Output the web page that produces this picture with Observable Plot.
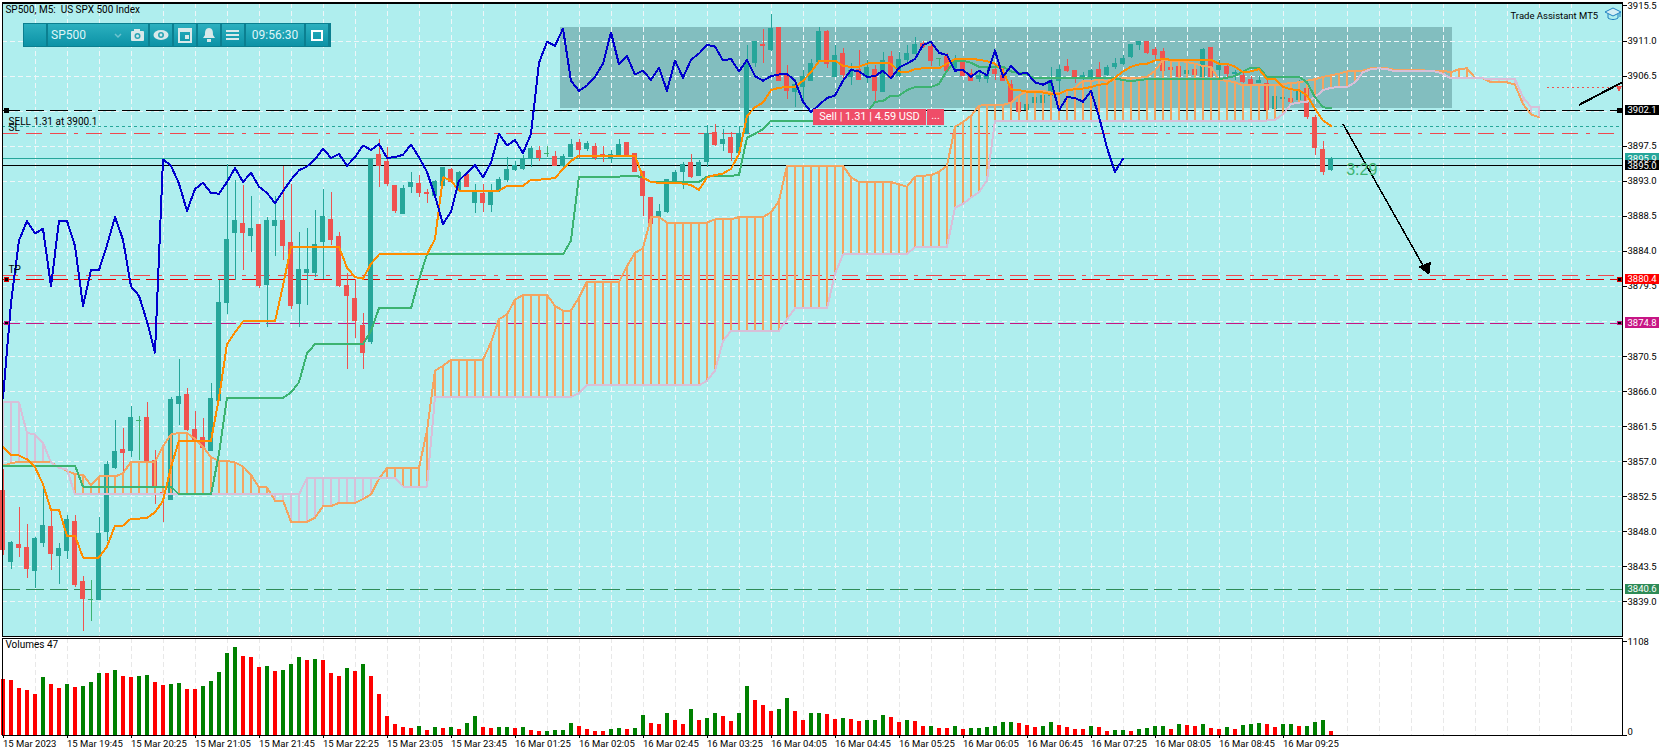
<!DOCTYPE html>
<html><head><meta charset="utf-8">
<script src="https://cdn.jsdelivr.net/npm/d3@7"></script>
<script src="https://cdn.jsdelivr.net/npm/@observablehq/plot@0.6"></script>
<style>
html,body{margin:0;padding:0;background:#fff;overflow:hidden}
#wrap{position:relative;width:1670px;height:756px;font-family:Roboto,sans-serif}
#wrap>div,#wrap>svg{position:absolute}
.tb{left:23px;top:23px;width:308px;height:24px;background:#0b7f90;}
.c{position:absolute;top:1px;height:22px;background:linear-gradient(#2cb0bf,#0c92a6);color:#dff6f8;font-size:12px;line-height:22px;box-sizing:border-box;text-align:center}
.c svg{position:absolute;left:0;top:0}
.sell{left:813px;top:109px;height:16px;width:113px;background:#EF4D68;color:#fff;font-size:11px;line-height:16px;text-align:center;white-space:pre}
.more{left:927px;top:109px;height:16px;width:17px;background:#EF4D68;color:#fff;font-size:11px;line-height:14px;text-align:center}
</style></head><body><div id="wrap"></div>
<script>
const open=[3853.3,3844.1,3846.3,3845.9,3843.0,3846.6,3848.6,3844.9,3845.5,3849.3,
3841.6,3839.2,3839.2,3848.0,3856.2,3858.5,3858.4,3862.2,3862.6,3857.1,
3853.0,3852.1,3864.4,3865.5,3861.1,3860.1,3858.4,3864.8,3877.4,3886.3,
3887.5,3886.0,3887.4,3879.7,3887.3,3887.9,3885.1,3877.3,3881.2,3881.2,
3885.2,3888.0,3885.9,3879.6,3877.9,3874.4,3872.4,3896.4,3895.5,3892.4,
3888.8,3892.2,3892.6,3891.5,3891.1,3892.4,3894.5,3891.8,3893.8,3890.2,
3891.4,3890.0,3891.8,3893.2,3894.5,3894.6,3895.8,3896.9,3896.5,3896.1,
3895.0,3896.1,3897.9,3897.2,3897.4,3896.4,3895.9,3896.1,3897.9,3896.5,
3894.2,3890.9,3888.3,3889.0,3892.8,3894.2,3895.4,3893.7,3895.5,3899.2,
3897.8,3898.6,3896.6,3899.1,3908.2,3910.5,3909.8,3912.7,3906.6,3904.5,
3905.1,3905.9,3908.3,3912.2,3906.4,3909.4,3906.4,3907.3,3906.5,3907.3,
3904.5,3909.0,3906.5,3908.6,3909.4,3910.6,3910.3,3908.7,3908.9,3907.6,
3908.3,3906.8,3906.1,3906.1,3907.3,3906.5,3905.3,3903.1,3902.1,3903.0,
3903.1,3904.0,3905.9,3907.7,3907.2,3906.3,3906.1,3907.3,3906.6,3907.7,
3908.0,3909.0,3910.5,3910.9,3909.8,3909.6,3907.5,3907.7,3906.8,3907.3,
3906.4,3910.1,3907.3,3907.7,3906.8,3906.5,3906.0,3905.6,3905.5,3902.3,
3903.6,3903.5,3903.4,3904.8,3901.1,3897.0,3894.5];
const high=[3856.0,3846.8,3851.1,3849.0,3847.3,3854.1,3850.8,3846.5,3850.1,3850.1,
3842.3,3841.8,3849.8,3857.0,3862.3,3861.2,3864.1,3862.8,3864.6,3858.5,
3859.0,3865.3,3870.1,3866.4,3863.5,3862.5,3867.1,3880.3,3895.1,3893.1,
3892.4,3891.1,3887.4,3888.4,3891.1,3894.9,3892.6,3886.4,3886.9,3889.2,
3892.0,3891.5,3886.4,3881.1,3880.4,3876.0,3895.8,3898.3,3897.3,3892.4,
3892.4,3894.1,3893.8,3892.0,3893.1,3894.7,3894.6,3894.3,3893.9,3892.6,
3892.6,3892.6,3893.5,3896.0,3895.6,3896.3,3897.4,3897.5,3897.4,3896.8,
3896.5,3898.3,3898.3,3898.1,3897.8,3897.4,3896.9,3898.4,3897.9,3896.6,
3894.2,3890.9,3890.0,3893.2,3894.4,3895.4,3896.4,3895.7,3900.1,3900.3,
3899.6,3899.2,3900.0,3910.4,3910.9,3912.5,3914.4,3912.7,3907.8,3906.1,
3907.2,3908.6,3912.8,3912.3,3910.4,3910.1,3908.1,3909.8,3908.5,3907.8,
3909.5,3909.6,3909.5,3910.4,3911.4,3910.9,3910.8,3908.8,3909.4,3909.2,
3908.7,3907.4,3907.0,3907.6,3907.8,3907.6,3905.9,3903.3,3903.0,3904.2,
3904.5,3907.6,3907.8,3908.6,3907.2,3906.9,3907.4,3908.2,3907.8,3908.7,
3909.1,3910.5,3911.0,3911.0,3910.2,3910.1,3907.6,3908.0,3907.4,3907.5,
3910.0,3910.1,3908.5,3908.1,3907.2,3907.0,3906.5,3906.5,3906.0,3903.9,
3903.8,3903.6,3905.9,3905.5,3901.4,3898.1,3896.1];
const low=[3845.0,3843.2,3844.7,3842.0,3840.7,3846.0,3843.0,3841.2,3844.4,3840.9,
3835.2,3836.5,3839.2,3846.8,3856.0,3855.8,3857.5,3857.1,3856.5,3851.5,
3849.2,3852.0,3861.7,3860.9,3859.2,3858.7,3858.4,3864.8,3875.9,3880.3,
3881.5,3883.8,3879.2,3874.2,3883.3,3882.8,3876.6,3874.2,3877.0,3880.6,
3880.4,3884.8,3879.4,3868.8,3872.8,3868.8,3872.0,3892.2,3892.3,3888.9,
3888.8,3891.4,3890.9,3890.2,3890.9,3892.4,3892.9,3891.5,3892.2,3888.8,
3889.0,3889.0,3891.6,3892.9,3894.2,3894.4,3894.8,3895.5,3896.0,3895.0,
3894.6,3896.0,3895.9,3896.8,3895.7,3895.4,3895.3,3896.1,3896.0,3894.1,
3888.5,3887.4,3888.1,3888.8,3892.7,3892.0,3893.4,3893.6,3894.8,3897.5,
3896.8,3895.5,3896.5,3899.1,3907.6,3908.1,3909.7,3905.9,3903.5,3902.5,
3902.9,3905.9,3908.3,3907.5,3906.3,3905.9,3905.3,3905.9,3905.5,3903.3,
3904.5,3906.2,3906.3,3907.8,3909.3,3910.0,3907.7,3907.7,3907.1,3907.3,
3906.4,3905.8,3905.7,3905.5,3905.9,3905.8,3903.1,3901.8,3902.0,3902.9,
3902.9,3903.9,3902.0,3907.0,3905.5,3905.9,3905.9,3905.1,3906.4,3907.4,
3907.8,3908.7,3909.8,3909.3,3908.5,3907.2,3907.2,3906.3,3906.7,3906.5,
3906.3,3906.3,3906.1,3906.1,3905.9,3905.5,3905.3,3905.5,3902.0,3902.2,
3903.5,3903.1,3903.3,3900.9,3896.3,3893.7,3894.2];
const close=[3845.7,3846.6,3845.9,3843.2,3847.1,3848.8,3845.1,3845.8,3849.5,3841.2,
3839.4,3839.2,3847.7,3856.6,3858.3,3858.1,3862.6,3862.2,3857.1,3853.8,
3852.8,3864.9,3865.3,3861.1,3859.7,3858.8,3865.1,3877.4,3885.4,3887.9,
3886.3,3886.9,3879.5,3887.9,3887.9,3884.7,3877.0,3881.6,3881.6,3884.8,
3888.4,3885.5,3879.5,3878.3,3875.0,3871.0,3895.8,3895.0,3892.7,3889.2,
3892.0,3892.8,3891.5,3891.4,3892.9,3894.7,3892.9,3894.1,3892.3,3891.5,
3890.2,3891.7,3893.2,3894.4,3894.9,3895.8,3897.2,3896.0,3896.5,3895.0,
3896.1,3897.6,3897.0,3897.8,3896.0,3896.1,3896.4,3897.7,3896.1,3894.2,
3891.1,3887.5,3889.1,3893.1,3894.1,3895.1,3893.5,3895.4,3899.1,3897.6,
3898.3,3896.6,3899.1,3908.2,3910.9,3910.4,3912.6,3905.9,3904.6,3905.3,
3906.4,3908.1,3912.1,3908.0,3909.1,3906.7,3907.2,3906.0,3907.6,3904.6,
3908.5,3906.3,3908.6,3909.4,3910.5,3910.3,3908.5,3908.7,3907.1,3908.6,
3906.5,3905.9,3906.5,3906.7,3906.8,3905.9,3903.2,3901.9,3902.8,3903.7,
3904.0,3905.9,3907.3,3907.1,3906.4,3906.5,3907.2,3906.2,3907.6,3908.1,
3908.7,3910.5,3910.9,3909.5,3909.2,3907.2,3907.3,3906.4,3907.2,3906.6,
3909.8,3906.4,3907.8,3906.8,3906.9,3905.7,3905.4,3905.9,3902.1,3903.8,
3903.7,3903.2,3904.6,3901.3,3897.3,3894.2,3895.9];
const tenkan=[3858.9,3857.8,3857.8,3857.3,3856.3,3854.1,3850.8,3850.8,3847.5,3847.5,
3844.7,3844.7,3844.7,3846.1,3848.8,3848.8,3849.7,3849.7,3849.8,3850.5,
3852.0,3856.3,3859.7,3859.7,3859.7,3859.7,3859.7,3865.2,3872.1,3873.6,
3875.0,3875.0,3875.0,3875.0,3875.0,3879.6,3884.6,3884.6,3884.6,3884.6,
3884.6,3884.6,3884.6,3881.9,3880.7,3880.5,3882.4,3883.6,3883.6,3883.6,
3883.6,3883.6,3883.6,3883.6,3885.6,3893.5,3893.1,3891.8,3891.8,3891.8,
3891.8,3891.8,3891.8,3892.4,3892.4,3892.4,3893.2,3893.2,3893.3,3893.4,
3894.6,3895.6,3896.3,3896.3,3896.3,3896.3,3896.3,3896.3,3896.3,3896.3,
3893.5,3892.9,3892.8,3892.8,3892.8,3892.7,3892.5,3891.9,3893.5,3893.8,
3894.0,3894.6,3896.5,3901.4,3902.5,3903.1,3904.7,3905.0,3905.1,3905.1,
3905.9,3907.0,3908.4,3908.5,3908.5,3907.8,3907.7,3907.7,3908.1,3908.2,
3908.2,3908.1,3907.1,3907.0,3907.4,3907.5,3907.5,3907.5,3908.1,3908.7,
3908.7,3908.7,3908.6,3908.4,3908.1,3907.2,3904.8,3904.7,3904.5,3904.5,
3904.4,3904.2,3904.2,3904.7,3904.8,3904.9,3905.1,3905.4,3905.5,3906.3,
3907.1,3907.7,3908.0,3908.1,3908.5,3908.7,3908.6,3908.6,3908.6,3908.6,
3908.6,3908.6,3908.1,3908.1,3907.7,3907.0,3907.1,3907.4,3906.1,3906.1,
3905.1,3904.8,3904.7,3904.0,3902.3,3900.8,3900.1];
const kijun=[3856.5,3856.5,3856.5,3856.5,3856.5,3856.5,3856.5,3856.5,3856.5,3856.5,
3853.8,3853.8,3853.8,3853.8,3853.8,3853.8,3853.8,3853.8,3853.8,3853.8,
3853.8,3853.8,3852.8,3852.8,3852.8,3852.8,3852.8,3858.0,3865.2,3865.2,
3865.2,3865.2,3865.2,3865.2,3865.2,3865.2,3865.9,3867.2,3870.9,3872.1,
3872.1,3872.1,3872.1,3872.1,3872.1,3872.1,3873.8,3876.7,3876.7,3876.7,
3876.7,3876.7,3880.4,3883.6,3883.6,3883.6,3883.6,3883.6,3883.6,3883.6,
3883.6,3883.6,3883.6,3883.6,3883.6,3883.6,3883.6,3883.6,3883.6,3883.6,
3883.6,3885.4,3893.6,3893.6,3893.6,3893.6,3893.6,3893.6,3893.7,3893.7,
3893.5,3892.9,3892.9,3892.9,3892.9,3892.9,3892.9,3892.9,3893.6,3893.7,
3893.7,3893.7,3893.8,3898.6,3899.1,3899.7,3900.8,3900.8,3900.8,3900.8,
3900.8,3900.8,3900.8,3900.8,3900.8,3900.8,3900.8,3900.8,3901.8,3903.2,
3903.3,3904.0,3904.0,3904.7,3905.1,3905.1,3905.1,3905.5,3907.2,3908.4,
3908.5,3908.2,3907.7,3907.7,3907.7,3907.7,3907.1,3906.9,3906.7,3906.2,
3906.2,3906.2,3906.2,3906.2,3906.2,3906.2,3906.2,3906.2,3906.2,3906.2,
3906.0,3905.8,3906.0,3906.1,3906.1,3906.1,3906.1,3906.1,3906.1,3906.1,
3906.1,3906.1,3906.1,3906.3,3906.5,3907.1,3907.6,3907.6,3906.4,3906.4,
3906.4,3906.4,3906.4,3905.7,3903.8,3902.5,3902.4];
const senkouA=[3856.5,3856.8,3857.0,3857.0,3857.0,3857.0,3856.9,3856.3,3855.8,3855.4,
3855.3,3854.0,3855.1,3855.1,3855.1,3855.5,3857.0,3857.0,3857.0,3857.0,
3859.0,3860.5,3860.7,3860.7,3859.9,3858.9,3857.6,3857.1,3857.1,3856.9,
3856.4,3855.3,3853.7,3853.7,3852.0,3852.0,3849.3,3849.3,3849.3,3849.8,
3851.3,3851.3,3851.7,3851.7,3851.7,3852.2,3852.8,3854.8,3856.2,3856.2,
3856.2,3856.2,3856.2,3861.0,3868.7,3869.3,3870.1,3870.1,3870.1,3870.1,
3870.1,3872.3,3875.3,3875.9,3877.8,3878.4,3878.4,3878.4,3878.4,3877.0,
3876.4,3876.4,3878.1,3880.1,3880.1,3880.1,3880.1,3880.1,3882.1,3883.8,
3884.4,3888.4,3888.4,3887.7,3887.7,3887.7,3887.7,3887.7,3887.7,3888.1,
3888.1,3888.1,3888.4,3888.4,3888.4,3888.4,3889.0,3890.5,3895.0,3895.0,
3895.0,3895.0,3895.0,3895.0,3895.0,3895.0,3893.5,3892.9,3892.9,3892.9,
3892.9,3892.9,3892.6,3892.3,3893.6,3893.7,3893.8,3894.2,3895.0,3900.0,
3900.6,3901.4,3902.7,3902.8,3902.8,3902.8,3903.1,3904.0,3904.6,3904.6,
3904.6,3904.4,3904.3,3904.6,3905.0,3905.9,3905.9,3906.0,3905.9,3906.1,
3906.3,3906.3,3906.3,3906.4,3907.2,3908.6,3908.5,3908.5,3908.3,3908.1,
3907.8,3907.7,3906.0,3905.9,3905.7,3905.3,3905.3,3905.3,3905.3,3905.3,
3905.5,3905.6,3905.7,3905.9,3906.1,3906.4,3906.6,3906.8,3907.1,3907.1,
3907.2,3907.5,3907.5,3907.5,3907.3,3907.3,3907.3,3907.3,3907.2,3907.2,
3907.2,3907.0,3907.4,3907.5,3906.3,3906.2,3905.7,3905.7,3905.7,3905.4,
3902.9,3901.6,3901.2];
const senkouB=[3864.6,3864.6,3864.6,3860.7,3860.5,3859.4,3856.9,3856.2,3856.0,3852.8,
3852.8,3852.8,3852.8,3852.8,3852.8,3852.8,3852.8,3852.8,3852.8,3852.8,
3852.8,3852.8,3852.8,3852.8,3852.8,3852.8,3852.8,3852.8,3852.8,3852.8,
3852.8,3852.8,3852.8,3852.8,3852.8,3852.8,3852.8,3852.8,3854.9,3854.9,
3854.9,3854.9,3854.9,3854.9,3854.9,3854.9,3854.9,3854.9,3854.9,3854.9,
3853.8,3853.8,3853.8,3853.8,3865.3,3865.3,3865.3,3865.3,3865.3,3865.3,
3865.3,3865.3,3865.3,3865.3,3865.3,3865.3,3865.3,3865.3,3865.3,3865.3,
3865.3,3865.3,3865.8,3866.8,3866.8,3866.8,3866.8,3866.8,3866.8,3866.8,
3866.8,3866.8,3866.8,3866.8,3866.8,3866.8,3866.8,3866.8,3867.4,3868.7,
3872.5,3873.8,3873.8,3873.8,3873.8,3873.8,3873.8,3873.8,3875.3,3876.7,
3876.7,3876.7,3876.7,3876.7,3881.1,3883.6,3883.7,3883.7,3883.7,3883.7,
3883.7,3883.7,3883.7,3883.7,3884.5,3884.6,3884.6,3884.6,3884.6,3889.6,
3890.1,3890.9,3891.6,3893.1,3900.8,3900.8,3900.8,3900.8,3900.8,3900.8,
3900.8,3900.8,3900.8,3900.8,3900.8,3900.8,3900.8,3900.8,3900.8,3900.8,
3900.8,3900.8,3900.8,3900.8,3900.8,3900.8,3900.8,3900.8,3900.8,3900.8,
3900.8,3900.8,3900.8,3900.8,3900.8,3900.8,3900.8,3900.8,3900.8,3900.9,
3901.6,3902.9,3903.1,3903.2,3903.8,3904.7,3905.0,3905.1,3905.1,3905.7,
3907.0,3907.4,3907.5,3907.4,3907.1,3907.1,3907.1,3907.1,3907.1,3907.1,
3906.8,3906.2,3906.2,3906.2,3906.2,3906.2,3906.1,3906.1,3906.1,3906.1,
3903.8,3902.5,3902.5];
const chikou=close.slice(26);
const volumes=[664,652,558,534,487,688,605,558,605,570,
575,629,735,730,770,700,688,700,711,629,
593,605,610,546,546,582,641,747,971,1041,
935,924,806,817,758,770,841,924,888,900,
888,735,700,794,758,841,700,487,228,134,
98,86,110,63,98,86,98,75,145,228,
98,86,98,98,86,98,63,51,51,63,
63,145,110,75,51,51,75,86,75,86,
240,145,134,263,181,134,310,181,204,263,
228,169,263,582,417,358,287,310,440,287,
181,263,263,252,193,204,193,169,181,181,
240,216,157,181,169,110,110,86,86,110,
75,86,86,98,110,157,157,145,122,98,
110,157,122,98,75,75,110,98,51,63,
63,51,75,86,110,110,75,134,122,110,
134,86,75,98,75,122,134,145,134,98,
134,134,110,110,157,181,47];
const volumeUp="rrrrrgrrgrgggrgrrggrrggrrgggggrrrgrgggrgrrrgrgrrrrrrgrgrgrggrrggrgrrgg"+
"ggrrrrggrggrrgrrgrggrrggrrrggrrggrrgrrgggrrgrrgrrgrggggggrrrggrrrrgrrg"+
"grggggrgrrgrrgrgggrrggrgggr";
const priceTicks=[3915.5,3911,3906.5,3897.5,3893,3888.5,3884,3879.5,3870.5,3866,3861.5,3857,3852.5,3848,3843.5,3839];
const gridPrices=[3911,3906.5,3902,3897.5,3893,3888.5,3884,3879.5,3875,3870.5,3866,3861.5,3857,3852.5,3848,3843.5,3839];
const timeLabels=["15 Mar 2023","15 Mar 19:45","15 Mar 20:25","15 Mar 21:05","15 Mar 21:45","15 Mar 22:25","15 Mar 23:05","15 Mar 23:45","16 Mar 01:25","16 Mar 02:05","16 Mar 02:45","16 Mar 03:25","16 Mar 04:05","16 Mar 04:45","16 Mar 05:25","16 Mar 06:05","16 Mar 06:45","16 Mar 07:25","16 Mar 08:05","16 Mar 08:45","16 Mar 09:25"];
const priceTags=[{p:3902.1,bg:"#000"},{p:3895.9,bg:"#26A69A"},{p:3895.0,bg:"#000"},{p:3880.4,bg:"#FF0000"},{p:3874.8,bg:"#C71585"},{p:3840.6,bg:"#2E8B57"}];
const levels=[
 {p:3902.1,c:"#000",d:"18,6",w:1},{p:3900.05,c:"#26A69A",d:"3,3",w:1},{p:3899.1,c:"#F0484F",d:"16,8,16,8,16,8,4,8",w:1},
 {p:3895.9,c:"#26A69A",d:null,w:1},{p:3895.0,c:"#000",d:null,w:1},{p:3880.9,c:"#F0484F",d:"16,8,16,8,16,8,4,8",w:1},
 {p:3880.4,c:"#E00000",d:"18,6",w:1},{p:3874.8,c:"#C71585",d:"18,6",w:1},{p:3840.6,c:"#2E8B57",d:"18,6",w:1}];
const N=close.length;
[open,high,low,tenkan,kijun].forEach((a,k)=>{if(a.length!==N)throw new Error("len "+k+" "+a.length)});
if(senkouA.length!==193||senkouB.length!==193)throw new Error("senkou "+senkouA.length+" "+senkouB.length);
if(volumes.length!==N||volumeUp.length!==N)throw new Error("vol "+volumes.length+" "+volumeUp.length);

const idx=d3.range(N), kumo=d3.range(193);
const xDomain=[-0.0625,202.4375];
const vGrid=d3.range(4,200,4);
const FONT="Roboto,'Liberation Sans',sans-serif";
const RED="#EF5350",TEAL="#26A69A",DOJI="#3CB371";
const colorOf=i=>close[i]>open[i]?TEAL:close[i]<open[i]?RED:DOJI;
const candle=c=>idx.filter(i=>colorOf(i)===c);
const wicks=c=>Plot.ruleX(candle(c),{x:i=>i,y1:i=>low[i],y2:i=>high[i],stroke:c,strokeWidth:1});
const bodies=c=>Plot.rect(candle(c),{x1:i=>i-.3125,x2:i=>i+.3125,y1:i=>open[i],y2:i=>close[i],fill:c,insetTop:-.5,insetBottom:-.5});
const lineOf=(arr,stroke,w=2)=>Plot.line(arr,{x:(d,i)=>i,y:d=>d,stroke,strokeWidth:w});
const T=(txt,bar,price,o={})=>Plot.text([txt],{x:bar,y:price,textAnchor:"start",fontSize:10,fill:"#000",...o});

const main=Plot.plot({
 width:1670,height:637,marginLeft:2,marginRight:48,marginTop:2.5,marginBottom:1,
 style:{background:"#fff",fontFamily:FONT,fontSize:"10px",color:"#000",overflow:"visible",shapeRendering:"crispEdges"},
 x:{domain:xDomain,axis:null},
 y:{domain:[3834.56,3915.885],axis:null},
 marks:[
  Plot.frame({fill:"#AFEEEE",stroke:"none"}),
  Plot.rect([0],{x1:69.7,x2:181.2,y1:3902.4,y2:3912.7,fill:"#82BEBF"}),
  Plot.ruleY(gridPrices,{stroke:"#EEF6F8",strokeDasharray:"5,3",strokeWidth:1}),
  Plot.ruleX(vGrid,{stroke:"#EEF6F8",strokeDasharray:"5,3",strokeWidth:1}),
  ...levels.map(l=>Plot.ruleY([l.p],{stroke:l.c,strokeWidth:l.w,strokeDasharray:l.d})),
  Plot.link([0],{x1:193,x2:201.5,y1:3905.05,y2:3905.05,stroke:"#EF5350",strokeDasharray:"2,3",strokeWidth:1}),
  Plot.dot([0],{x:202,y:3905.0,symbol:"triangle",r:2.5,rotate:180,fill:"#EF5350"}),
  ...[RED,TEAL,DOJI].flatMap(c=>[wicks(c),bodies(c)]),
  Plot.ruleX(kumo.filter(i=>senkouA[i]>=senkouB[i]),{x:i=>i,y1:i=>senkouA[i],y2:i=>senkouB[i],stroke:"#F4A460",strokeWidth:2}),
  Plot.ruleX(kumo.filter(i=>senkouA[i]<senkouB[i]),{x:i=>i,y1:i=>senkouA[i],y2:i=>senkouB[i],stroke:"#D8BFD8",strokeWidth:2}),
  lineOf(senkouA,"#F4A460"),
  lineOf(senkouB,"#D8BFD8"),
  lineOf(kijun,"#3CB371"),
  lineOf(tenkan,"#FF8C00"),
  lineOf(chikou,"#0000CD"),
  Plot.link([0],{x1:167.5,x2:178.1,y1:3900.35,y2:3881.1,stroke:"#000",strokeWidth:1.5}),
  Plot.dot([0],{x:177.9,y:3881.9,symbol:"triangle",r:5,rotate:157,fill:"#000"}),
  Plot.link([0],{x1:197,x2:202.4,y1:3902.8,y2:3905.7,stroke:"#000",strokeWidth:2}),
  Plot.dot([3902.1],{x:.4,y:d=>d,symbol:"square",r:2.6,fill:"#000"}),
  Plot.dot([3880.4],{x:.4,y:d=>d,symbol:"square",r:2.2,fill:"#000",stroke:"#E00000",strokeWidth:1}),
  Plot.dot([3874.8],{x:.4,y:d=>d,symbol:"square",r:2.2,fill:"#000",stroke:"#C71585",strokeWidth:1}),
  Plot.dot([3902.1],{x:202.1,y:d=>d,symbol:"square",r:2.6,fill:"#000"}),
  Plot.dot([3880.4],{x:202.1,y:d=>d,symbol:"square",r:2.2,fill:"#000",stroke:"#E00000",strokeWidth:1}),
  Plot.dot([3874.8],{x:202.1,y:d=>d,symbol:"square",r:2.2,fill:"#000",stroke:"#C71585",strokeWidth:1}),
  T("SP500, M5:\u00A0 US SPX 500 Index",.3,3915.0),
  T("SELL 1.31 at 3900.1",.7,3900.6),
  T("SL",.7,3899.9),
  T("TP",.7,3881.6),
  T("Trade Assistant MT5",199.4,3914.2,{textAnchor:"end",fontSize:9.5}),
  T("3:29",167.9,3894.4,{fontSize:16,fill:"#3CB371",fontFamily:"'Liberation Sans',sans-serif"}),
  Plot.axisY({anchor:"right",ticks:priceTicks,tickSize:4,tickPadding:1,label:null,tickFormat:d=>d.toFixed(1),fontSize:9.5}),
  Plot.rect(priceTags,{x1:202.85,x2:207.02,y1:d=>d.p-.65,y2:d=>d.p+.65,fill:d=>d.bg}),
  Plot.text(priceTags,{x:203.06,y:d=>d.p,text:d=>d.p.toFixed(1),textAnchor:"start",fill:"#fff",fontSize:9.5}),
  Plot.frame({stroke:"#000",strokeWidth:1.5})
 ],
 color:{type:"identity"}
});
main.style.left="0";main.style.top="0";

const volume=Plot.plot({
 width:1670,height:119,marginLeft:2,marginRight:48,marginTop:1,marginBottom:21,
 style:{background:"transparent",fontFamily:FONT,fontSize:"10px",color:"#000",overflow:"visible",shapeRendering:"crispEdges"},
 x:{domain:xDomain,axis:null},
 y:{domain:[0,1143],axis:null},
 marks:[
  Plot.ruleX(vGrid,{stroke:"#E8E8E8",strokeDasharray:"5,3",strokeWidth:1}),
  Plot.rect(idx.filter(i=>volumeUp[i]==="g"),{x1:i=>i-.25,x2:i=>i+.25,y1:0,y2:i=>volumes[i],fill:"#008000"}),
  Plot.rect(idx.filter(i=>volumeUp[i]==="r"),{x1:i=>i-.25,x2:i=>i+.25,y1:0,y2:i=>volumes[i],fill:"#FF0000"}),
  Plot.text(["Volumes 47"],{x:.3,y:1070,textAnchor:"start",fontSize:10,fill:"#000"}),
  Plot.axisY({anchor:"right",ticks:[0,1108],tickSize:4,tickPadding:1,label:null,tickFormat:d=>d?String(d):"",fontSize:9.5}),
  Plot.text(["0"],{x:203.06,y:0,dy:-4,textAnchor:"start",fontSize:9.5,fill:"#000"}),
  Plot.axisX({anchor:"bottom",ticks:timeLabels.map((_,k)=>k*8),tickFormat:i=>timeLabels[i/8],tickSize:3,tickPadding:2,textAnchor:"start",label:null,fontSize:9.5}),
  Plot.frame({stroke:"#000",strokeWidth:1.5})
 ]
});
volume.style.left="0";volume.style.top="637px";

const wrap=document.getElementById("wrap");
wrap.append(main,volume);

// toolbar and order label
const cells=[[1,22,""],[25,78,"SP500"],[103,22,"cam"],[127,22,"eye"],[151,22,"cal"],[175,22,"bell"],[199,22,"menu"],[223,58,"09:56:30"],[283,22,"win"]];
const icons={
 cam:'<rect x="5" y="7" width="13" height="10" rx="1" fill="#d9e9ea"/><rect x="8" y="5" width="6" height="3" fill="#d9e9ea"/><circle cx="11.5" cy="12" r="3" fill="#2aa5b4"/><circle cx="11.5" cy="12" r="1.5" fill="#d9e9ea"/>',
 eye:'<ellipse cx="11" cy="11" rx="7.5" ry="5" fill="#d9e9ea"/><circle cx="11" cy="11" r="3" fill="#2aa5b4"/><circle cx="11" cy="11" r="1.4" fill="#d9e9ea"/>',
 cal:'<rect x="5" y="5" width="12" height="13" fill="none" stroke="#d9e9ea" stroke-width="2"/><rect x="5" y="5" width="12" height="3" fill="#d9e9ea"/><rect x="11" y="11" width="4" height="4" fill="#d9e9ea"/>',
 bell:'<path d="M11 4c-4 0-4 4-4 7l-2 3h12l-2-3c0-3 0-7-4-7z" fill="#d9e9ea"/><rect x="9" y="15" width="4" height="3" fill="#d9e9ea"/>',
 menu:'<rect x="4" y="6" width="13" height="2" fill="#d9e9ea"/><rect x="4" y="10" width="13" height="2" fill="#d9e9ea"/><rect x="4" y="14" width="13" height="2" fill="#d9e9ea"/>',
 win:'<rect x="6" y="7" width="10" height="9" fill="none" stroke="#fff" stroke-width="2"/><rect x="6" y="6" width="10" height="2" fill="#fff"/>'
};
const tb=document.createElement("div");tb.className="tb";
cells.forEach(([l,w,t])=>{
 const c=document.createElement("div");c.className="c";c.style.left=l+"px";c.style.width=w+"px";
 if(icons[t])c.innerHTML='<svg width="'+w+'" height="22">'+icons[t]+'</svg>';
 else if(t==="SP500"){c.style.textAlign="left";c.style.paddingLeft="3px";c.textContent=t;
  c.insertAdjacentHTML("beforeend",'<svg width="78" height="22"><path d="M67 10l3 3l3-3" fill="none" stroke="#6fc3cf" stroke-width="1.5"/></svg>');}
 else c.textContent=t;
 tb.append(c);
});
wrap.append(tb);
const sell=document.createElement("div");sell.className="sell";sell.textContent="Sell | 1.31 | 4.59 USD";wrap.append(sell);
const more=document.createElement("div");more.className="more";more.textContent="...";wrap.append(more);
const hat=document.createElementNS("http://www.w3.org/2000/svg","svg");
hat.setAttribute("width","18");hat.setAttribute("height","14");hat.style.left="1604px";hat.style.top="7px";
hat.innerHTML='<path d="M1 5L9 1L17 5L9 9Z" fill="#d4eef5" stroke="#1c7fc0"/><path d="M4 7V11C7 13 11 13 14 11V7" fill="none" stroke="#1c7fc0"/><path d="M16 5V10" stroke="#1c7fc0"/>';
wrap.append(hat);
</script></body></html>
